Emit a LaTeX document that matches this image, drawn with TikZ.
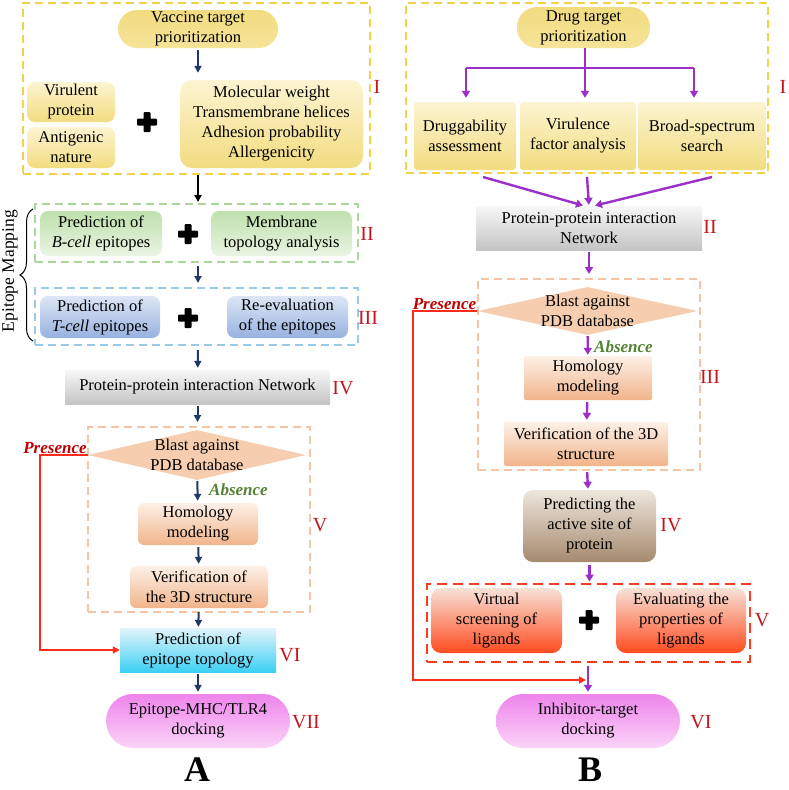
\documentclass[tikz,border=0pt]{standalone}
\usepackage{fontspec}
\setmainfont{Liberation Serif}
\usetikzlibrary{arrows.meta,shapes.geometric,decorations.pathreplacing}
\definecolor{navyarr}{HTML}{1F3864}
\definecolor{purparr}{HTML}{9B30C8}
\definecolor{redline}{HTML}{FF2B1C}
\definecolor{romanred}{HTML}{C0161E}
\definecolor{presred}{HTML}{C00000}
\definecolor{absgreen}{HTML}{548235}
\definecolor{ylwlt}{HTML}{FCF4D2}
\definecolor{ylwdk}{HTML}{F2DC80}
\definecolor{ylwframe}{HTML}{F2D248}
\definecolor{grnlt}{HTML}{EAF5E3}
\definecolor{grndk}{HTML}{BFE0AC}
\definecolor{grnframe}{HTML}{A9D79A}
\definecolor{blult}{HTML}{DCE6F5}
\definecolor{bludk}{HTML}{97B2DF}
\definecolor{bluframe}{HTML}{9DC9E8}
\definecolor{grylt}{HTML}{F7F7F7}
\definecolor{grydk}{HTML}{C4C4C4}
\definecolor{orglt}{HTML}{FDF0E7}
\definecolor{orgdk}{HTML}{F1B48A}
\definecolor{orgframe}{HTML}{F4C4A4}
\definecolor{diafill}{HTML}{F6CDAE}
\definecolor{cyanlt}{HTML}{E2F4FB}
\definecolor{cyandk}{HTML}{3CCFF4}
\definecolor{pinklt}{HTML}{FBD3F8}
\definecolor{pinkdk}{HTML}{EE84EC}
\definecolor{brnlt}{HTML}{EEE6DD}
\definecolor{brndk}{HTML}{A58A6D}
\definecolor{redlt}{HTML}{F8E2D8}
\definecolor{reddk}{HTML}{FF4B1F}
\definecolor{redframe}{HTML}{FF3A20}
\tikzset{
  dashbox/.style={draw, dash pattern=on 8pt off 5pt, line width=2pt, inner sep=0},
  boxbase/.style={shade, align=center, inner sep=0},
  ylwbox/.style={boxbase, top color=ylwlt, bottom color=ylwdk, rounded corners=8},
  grnbox/.style={boxbase, top color=grndk, bottom color=grnlt, rounded corners=8},
  blubox/.style={boxbase, top color=blult, bottom color=bludk, rounded corners=8},
  grybox/.style={boxbase, top color=grylt, bottom color=grydk},
  orgbox/.style={boxbase, top color=orglt, bottom color=orgdk, rounded corners=6},
  cyanbox/.style={boxbase, top color=cyanlt, bottom color=cyandk},
  pinkpill/.style={boxbase, top color=pinkdk, bottom color=pinklt, rounded corners=27},
  brnbox/.style={boxbase, top color=brnlt, bottom color=brndk, rounded corners=10},
  redbox/.style={boxbase, top color=redlt, bottom color=reddk, rounded corners=10},
  blastdia/.style={diamond, fill=diafill, inner sep=0, minimum width=218, minimum height=50},
  roman/.style={text=romanred, font=\fontsize{20}{24}\selectfont},
  presence/.style={text=presred, font=\fontsize{17}{20}\selectfont\bfseries\itshape, inner sep=1},
  absence/.style={text=absgreen, font=\fontsize{17}{20}\selectfont\bfseries\itshape, inner sep=1},
  panel/.style={font=\fontsize{36}{42}\selectfont\bfseries, inner sep=0, anchor=base},
  navyarrow/.style={draw=navyarr, line width=2pt, -{Triangle[length=7pt,width=7pt]}},
  purparrow/.style={draw=purparr, line width=2.4pt, -{Triangle[length=7pt,width=8pt]}},
  redarrow/.style={draw=redline, line width=2pt, -{Triangle[length=7pt,width=7pt]}},
  plussign/.pic={
    \fill[rounded corners=1] (-10,-3.5) rectangle (10,3.5);
    \fill[rounded corners=1] (-3.5,-10) rectangle (3.5,10);
  }
}
\begin{document}
\begin{tikzpicture}[x=1pt, y=-1pt, font=\fontsize{16.5}{20}\selectfont]
\useasboundingbox (0,0) rectangle (788,790);
% A
\node[dashbox, draw=ylwframe, line width=2.5pt, minimum width=347, minimum height=171] (frameIA) at (196.5,88.5) {};
\node[boxbase, top color=ylwdk, bottom color=ylwdk!70!ylwlt, rounded corners=19, minimum width=160, minimum height=38] (vtpA) at (198,29) {Vaccine target\\prioritization};
\node[ylwbox, minimum width=88, minimum height=40] (virpA) at (71,102) {Virulent\\protein};
\node[ylwbox, minimum width=88, minimum height=41] (antgA) at (71,147.5) {Antigenic\\nature};
\node[ylwbox, rounded corners=12, minimum width=183, minimum height=88] (critA) at (271.5,124) {Molecular weight\\Transmembrane helices\\Adhesion probability\\Allergenicity};
\pic at (147,122) {plussign};
\node[roman] (romIA) at (377,87) {I};
\node[dashbox, draw=grnframe, minimum width=323, minimum height=58] (frameIIA) at (196.5,233) {};
\node[grnbox, minimum width=122, minimum height=45] (bcellA) at (101,233.5) {Prediction of\\\textit{B-cell} epitopes};
\node[grnbox, minimum width=141, minimum height=45] (membA) at (281.5,233.5) {Membrane\\topology analysis};
\pic at (188,234) {plussign};
\node[roman] (romIIA) at (367,234) {II};
\node[dashbox, draw=bluframe, minimum width=323, minimum height=57] (frameIIIA) at (196.5,316.5) {};
\node[blubox, minimum width=120, minimum height=42] (tcellA) at (100,317) {Prediction of\\\textit{T-cell} epitopes};
\node[blubox, minimum width=121, minimum height=42] (reevA) at (287.5,317) {Re-evaluation\\of the epitopes};
\pic at (188,318) {plussign};
\node[roman] (romIIIA) at (368,318) {III};
\draw[line width=1pt, decorate, decoration={brace, amplitude=13pt}] (33,341) -- (33,209);
\node[rotate=90, font=\fontsize{17.5}{20}\selectfont] (epimap) at (10,271) {Epitope Mapping};
\node[grybox, minimum width=265, minimum height=34] (ppiA) at (197.5,387) {Protein-protein interaction Network};
\node[roman] (romIVA) at (343,388) {IV};
\node[dashbox, draw=orgframe, minimum width=222, minimum height=185] (frameVA) at (199,519.5) {};
\node[blastdia, label={[align=center]center:Blast against\\PDB database}] (blastA) at (197,455) {};
\node[presence, anchor=south east] (presA) at (blastA.west) {Presence};
\node[absence, anchor=west] (absA) at (208,490) {Absence};
\node[orgbox, minimum width=120, minimum height=42] (homA) at (198,524) {Homology\\modeling};
\node[orgbox, minimum width=138, minimum height=42] (verA) at (199,587) {Verification of\\the 3D structure};
\node[roman] (romVA) at (320,525) {V};
\node[cyanbox, minimum width=156, minimum height=44] (epitopoA) at (198,650) {Prediction of\\epitope topology};
\node[roman] (romVIA) at (290,655) {VI};
\node[pinkpill, minimum width=184, minimum height=54] (dockA) at (198,721) {Epitope-MHC/TLR4\\docking};
\node[roman] (romVIIA) at (306,722) {VII};
\node[panel] (labA) at (197,781) {A};
\draw[navyarrow, shorten <=2pt, shorten >=7pt] (vtpA) -- (vtpA |- critA.north);
\draw[line width=2pt, -{Triangle[length=7pt,width=7pt]}, shorten >=1pt] (frameIA.south -| vtpA) -- (frameIIA.north -| vtpA);
\draw[navyarrow, shorten <=3pt, shorten >=4pt] (frameIIA.south -| vtpA) -- (frameIIIA.north -| vtpA);
\draw[navyarrow, shorten <=4pt, shorten >=2pt] (frameIIIA.south -| vtpA) -- (ppiA);
\draw[navyarrow, shorten <=2pt, shorten >=4pt] (ppiA) -- (frameVA.north -| ppiA);
\draw[navyarrow, shorten <=1pt, shorten >=2pt] (blastA) -- (homA);
\draw[navyarrow, shorten <=2pt, shorten >=2pt] (homA) -- (verA);
\draw[navyarrow, shorten <=4pt, shorten >=1pt] (verA) -- (epitopoA);
\draw[navyarrow, shorten <=2pt, shorten >=2pt] (epitopoA) -- (dockA);
\coordinate (cornerA) at (40,455);
\draw[redarrow] (blastA.west) -- (cornerA) |- (epitopoA.west);
% B
\node[dashbox, draw=ylwframe, line width=2.5pt, minimum width=362, minimum height=170] (frameIB) at (587,88) {};
\node[boxbase, top color=ylwdk, bottom color=ylwdk!70!ylwlt, rounded corners=20, minimum width=133, minimum height=41] (dtpB) at (583.5,27.5) {Drug target\\prioritization};
\node[ylwbox, rounded corners=3, minimum width=102, minimum height=68] (drugB) at (465,136) {Druggability\\assessment};
\node[ylwbox, rounded corners=3, minimum width=116, minimum height=68] (viruB) at (578,136) {Virulence\\factor analysis};
\node[ylwbox, rounded corners=3, minimum width=128, minimum height=68] (broadB) at (702,136) {Broad-spectrum\\search};
\node[roman] (romIB) at (783,87) {I};
\coordinate (splitB) at (585,68);
\coordinate (splitL) at (466,68);
\coordinate (splitR) at (694,68);
\draw[draw=purparr, line width=2.4pt] (dtpB.south -| splitB) -- (splitB);
\draw[draw=purparr, line width=2.4pt] (splitL) -- (splitR);
\draw[purparrow, shorten >=4pt] (splitL) -- (splitL |- drugB.north);
\draw[purparrow, shorten >=4pt] (splitB) -- (splitB |- viruB.north);
\draw[purparrow, shorten >=4pt] (splitR) -- (splitR |- broadB.north);
\node[grybox, minimum width=226, minimum height=44] (ppiB) at (589,228) {Protein-protein interaction\\Network};
\node[roman] (romIIB) at (710,227) {II};
\coordinate (cvL) at (483,177);
\coordinate (cvM) at (587,177);
\coordinate (cvR) at (712,177);
\draw[purparrow, shorten >=1pt] (cvL) -- ([xshift=-5pt]ppiB.north);
\draw[purparrow, shorten >=1pt] (cvM) -- (ppiB.north);
\draw[purparrow, shorten >=1pt] (cvR) -- ([xshift=5pt]ppiB.north);
\node[dashbox, draw=orgframe, minimum width=222, minimum height=191] (frameIIIB) at (589,374.5) {};
\node[blastdia, minimum width=220, minimum height=48, label={[align=center]center:Blast against\\PDB database}] (blastB) at (587.5,311) {};
\node[presence, anchor=south east] (presB) at (blastB.west) {Presence};
\node[absence, anchor=west] (absB) at (593,347) {Absence};
\node[orgbox, rounded corners=2, minimum width=128, minimum height=44] (homB) at (588,378) {Homology\\modeling};
\node[orgbox, rounded corners=2, minimum width=164, minimum height=44] (verB) at (586,444) {Verification of the 3D\\structure};
\node[roman] (romIIIB) at (710,377) {III};
\node[brnbox, minimum width=133, minimum height=72] (predB) at (589.5,526) {Predicting the\\active site of\\protein};
\node[roman] (romIVB) at (671,525) {IV};
\node[dashbox, draw=redframe, line width=2.8pt, dash pattern=on 10pt off 6pt, minimum width=323, minimum height=78] (frameVB) at (588.5,623) {};
\node[redbox, minimum width=131, minimum height=65] (virtB) at (496.5,620.5) {Virtual\\screening of\\ligands};
\node[redbox, minimum width=130, minimum height=65] (evalB) at (681,620.5) {Evaluating the\\properties of\\ligands};
\pic at (589,620) {plussign};
\node[roman] (romVB) at (762,620) {V};
\node[pinkpill, minimum width=184, minimum height=54] (dockB) at (588,721) {Inhibitor-target\\docking};
\node[roman] (romVIB) at (701,722) {VI};
\node[panel] (labB) at (590,781) {B};
\draw[purparrow, shorten <=2pt, shorten >=4pt] (ppiB) -- (frameIIIB.north -| ppiB);
\draw[purparrow, shorten <=1pt, shorten >=1pt] (blastB) -- (homB);
\draw[purparrow, shorten <=2pt, shorten >=2pt] (homB) -- (verB);
\draw[purparrow, shorten <=6pt, shorten >=1pt] (verB) -- (predB);
\draw[purparrow, shorten <=3pt, shorten >=1pt] (predB) -- (frameVB.north -| predB);
\draw[purparrow, shorten <=3pt, shorten >=2pt] (frameVB.south -| dockB) -- (dockB);
\coordinate (cornerB) at (413,311);
\coordinate (joinB) at (586,680);
\draw[redarrow] (blastB.west) -- (cornerB) |- (joinB);
\end{tikzpicture}
\end{document}
